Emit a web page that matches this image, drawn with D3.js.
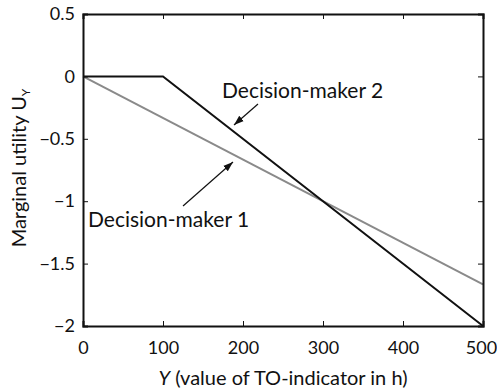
<!DOCTYPE html>
<html><head><meta charset="utf-8">
<script src="https://cdn.jsdelivr.net/npm/d3@7"></script>
<style>
body{margin:0;background:#fff;}
svg text{font-family:Lato,"Open Sans",sans-serif;fill:#111;}
</style></head>
<body><svg id="c" width="497" height="392"></svg>
<script>
const xTicks=[0,100,200,300,400,500];
const yTicks=[-2,-1.5,-1,-0.5,0,0.5];
const yTickLabels=["\u22122","\u22121.5","\u22121","\u22120.5","0","0.5"];
const dm1X=[0,500];
const dm1Y=[0,-1.6667];
const dm2X=[0,100,500];
const dm2Y=[0,0,-2];
const labels=["Decision-maker 1","Decision-maker 2"];

const svg=d3.select("#c");
const m={l:83,t:14,r:14,b:66};
const W=497,H=392;
const x=d3.scaleLinear().domain([0,500]).range([m.l,W-m.r]);
const y=d3.scaleLinear().domain([-2,0.5]).range([H-m.b,m.t]);

const g=svg.append("g");
const line=d3.line().x(d=>x(d[0])).y(d=>y(d[1]));
g.append("path").datum(d3.zip(dm1X,dm1Y)).attr("d",line).attr("fill","none").attr("stroke","#8a8a8a").attr("stroke-width",2);
g.append("path").datum(d3.zip(dm2X,dm2Y)).attr("d",line).attr("fill","none").attr("stroke","#111").attr("stroke-width",2);

const ax=g.append("g").attr("transform",`translate(0,${y(-2)})`).call(d3.axisBottom(x).tickValues(xTicks).tickSize(-5).tickPadding(15).tickFormat(d3.format("d")));
const axT=g.append("g").attr("transform",`translate(0,${y(0.5)})`).call(d3.axisTop(x).tickValues(xTicks).tickSize(-5).tickFormat(""));
const ay=g.append("g").attr("transform",`translate(${x(0)},0)`).call(d3.axisLeft(y).tickValues(yTicks).tickSize(-5).tickPadding(8).tickFormat((d,i)=>yTickLabels[i]));
const ayR=g.append("g").attr("transform",`translate(${x(500)},0)`).call(d3.axisRight(y).tickValues(yTicks).tickSize(-5).tickFormat(""));
[ax,axT,ay,ayR].forEach(a=>{a.select(".domain").attr("stroke","#111").attr("stroke-width",2);a.selectAll(".tick line").attr("stroke","#111").attr("stroke-width",1);a.selectAll("text").attr("font-size",18).attr("fill","#111").attr("font-family","Lato");});
ax.selectAll(".tick:last-of-type text").attr("dx",-2);

const xl=svg.append("text").attr("x",283).attr("y",385).attr("text-anchor","middle").attr("font-size",20);
xl.append("tspan").attr("font-style","italic").text("Y");
xl.append("tspan").text(" (value of TO-indicator in h)");
const yl=svg.append("text").attr("transform","translate(26,168) rotate(-90)").attr("text-anchor","middle").attr("font-size",20);
yl.append("tspan").text("Marginal utility U");
yl.append("tspan").attr("font-size",12).attr("dy",4).text("Y");

const defs=svg.append("defs");
defs.append("marker").attr("id","ah").attr("viewBox","0 0 10 10").attr("refX",10).attr("refY",5).attr("markerWidth",10).attr("markerHeight",10).attr("markerUnits","userSpaceOnUse").attr("orient","auto")
 .append("path").attr("d","M0,1.5 L10,5 L0,8.5 Z").attr("fill","#111");
svg.append("text").attr("x",222).attr("y",98).attr("font-size",21).text(labels[1]);
svg.append("line").attr("x1",258).attr("y1",104).attr("x2",234).attr("y2",125).attr("stroke","#111").attr("stroke-width",1.2).attr("marker-end","url(#ah)");
svg.append("text").attr("x",88).attr("y",227).attr("font-size",21).text(labels[0]);
svg.append("line").attr("x1",183).attr("y1",206).attr("x2",233).attr("y2",162).attr("stroke","#111").attr("stroke-width",1.2).attr("marker-end","url(#ah)");
</script></body></html>
